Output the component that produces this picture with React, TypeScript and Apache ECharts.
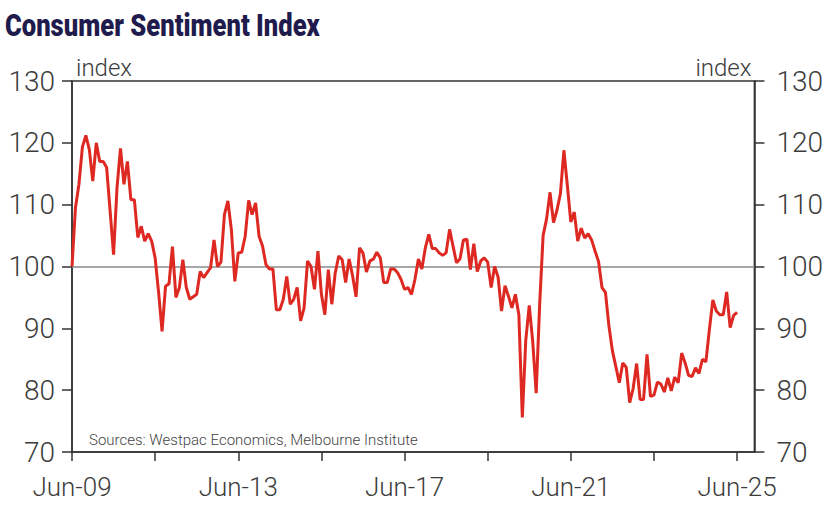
import React, { useEffect, useRef } from "react";
import * as echarts from "echarts";

// Westpac-Melbourne Institute Consumer Sentiment Index, monthly, Jun-09 to Jun-25
const y2009 = [100.0, 109.5, 113.3, 119.3, 121.2, 118.9, 113.8]; // Jun-Dec
const y2010 = [120.0, 117.0, 117.0, 116.0, 109.0, 101.9, 112.8, 119.1, 113.3, 117.0, 110.8, 110.8];
const y2011 = [104.7, 106.5, 104.1, 105.3, 104.1, 101.4, 95.8, 89.5, 96.8, 97.2, 103.2, 95.0];
const y2012 = [96.6, 101.1, 96.6, 94.7, 95.1, 95.5, 99.2, 98.2, 99.0, 99.8, 104.3, 100.0];
const y2013 = [100.7, 108.4, 110.6, 106.0, 97.6, 102.2, 102.3, 104.9, 110.7, 108.4, 110.3, 104.9];
const y2014 = [103.3, 100.3, 99.6, 99.6, 93.0, 93.0, 94.7, 98.4, 93.9, 94.7, 96.6, 91.2];
const y2015 = [93.3, 100.9, 100.0, 96.3, 102.5, 95.5, 92.2, 99.5, 93.9, 99.0, 101.7, 101.1];
const y2016 = [97.4, 101.2, 98.5, 95.1, 103.0, 102.2, 99.1, 100.9, 101.2, 102.3, 101.4, 97.4];
const y2017 = [97.4, 99.6, 99.6, 99.0, 97.9, 96.3, 96.6, 95.5, 97.9, 101.2, 99.6, 103.0];
const y2018 = [105.2, 102.9, 102.9, 102.2, 101.8, 102.2, 106.0, 103.3, 100.6, 101.2, 104.3, 104.4];
const y2019 = [99.5, 103.7, 99.2, 100.9, 101.4, 100.7, 96.6, 100.0, 98.3, 92.8, 96.9, 95.2];
const y2020 = [93.3, 95.5, 92.2, 75.6, 88.1, 93.7, 87.9, 79.5, 93.8, 105.0, 107.7, 112.0];
const y2021 = [107.1, 109.1, 111.8, 118.8, 113.1, 107.2, 108.8, 104.1, 106.2, 104.6, 105.3, 104.3];
const y2022 = [102.5, 100.8, 96.6, 95.8, 90.4, 86.4, 83.8, 81.2, 84.4, 83.7, 78.0, 80.3];
const y2023 = [84.3, 78.5, 78.5, 85.8, 79.0, 79.2, 81.3, 81.0, 79.7, 82.0, 79.9, 82.1];
const y2024 = [81.2, 86.0, 84.4, 82.4, 82.2, 83.6, 82.7, 85.0, 84.6, 89.8, 94.6, 92.8];
const y2025 = [92.2, 92.2, 95.9, 90.1, 92.1, 92.6]; // Jan-Jun

const tickLabels = ["Jun-09", "Jun-13", "Jun-17", "Jun-21", "Jun-25"];
const yTicks = [70, 80, 90, 100, 110, 120, 130];

const sentiment = [
  ...y2009, ...y2010, ...y2011, ...y2012, ...y2013, ...y2014, ...y2015, ...y2016,
  ...y2017, ...y2018, ...y2019, ...y2020, ...y2021, ...y2022, ...y2023, ...y2024, ...y2025,
];

// Month categories from Jun-09 through Nov-25 (axis runs a little past the last reading)
const MONTHS = ["Jan", "Feb", "Mar", "Apr", "May", "Jun", "Jul", "Aug", "Sep", "Oct", "Nov", "Dec"];
const months: string[] = [];
for (let i = 0; i < 198; i++) {
  const mi = 5 + i;
  const yr = 2009 + Math.floor(mi / 12);
  months.push(`${MONTHS[mi % 12]}-${String(yr % 100).padStart(2, "0")}`);
}

const AXIS_FONT = "Roboto, 'Liberation Sans', sans-serif";
const TEXT_COLOR = "#3c3c3c";
const AXIS_COLOR = "#333333";

export default function App() {
  const ref = useRef<HTMLDivElement>(null);

  useEffect(() => {
    if (!ref.current) return;
    const chart = echarts.init(ref.current, undefined, { renderer: "svg" });

    const yAxisCommon = {
      type: "value" as const,
      min: yTicks[0],
      max: yTicks[yTicks.length - 1],
      interval: 10,
      splitLine: { show: false },
      axisLine: { show: true, lineStyle: { color: AXIS_COLOR, width: 1.5 } },
      axisTick: { show: true, inside: false, length: 10, lineStyle: { color: AXIS_COLOR, width: 1.5 } },
      axisLabel: {
        color: TEXT_COLOR,
        fontSize: 28,
        fontWeight: 300,
        fontFamily: AXIS_FONT,
      },
      nameLocation: "end" as const,
      nameGap: 1,
    };

    chart.setOption({
      animation: false,
      backgroundColor: "#ffffff",
      title: {
        text: "Sources: Westpac Economics, Melbourne Institute",
        left: 84,
        top: 427,
        textStyle: {
          color: "#444444",
          fontSize: 15,
          fontWeight: 300,
          fontFamily: AXIS_FONT,
        },
      },
      graphic: [
        {
          type: "text",
          left: 5,
          top: 9,
          scaleX: 0.8,
          style: {
            text: "Consumer Sentiment Index",
            fill: "#1f1b4d",
            fontSize: 32,
            fontWeight: 900,
            fontFamily: "Roboto, 'DejaVu Sans', sans-serif",
          },
        },
      ],
      grid: {
        left: 72,
        right: 71,
        top: 81,
        bottom: 55,
        show: true,
        borderColor: AXIS_COLOR,
        borderWidth: 1.5,
        containLabel: false,
      },
      xAxis: {
        type: "category",
        data: months,
        boundaryGap: false,
        axisLine: { show: true, lineStyle: { color: AXIS_COLOR, width: 1.5 } },
        axisTick: {
          show: true,
          length: 9,
          interval: (i: number) => i % 24 === 0,
          lineStyle: { color: AXIS_COLOR, width: 1.5 },
        },
        axisLabel: {
          interval: (_i: number, v: string) => tickLabels.includes(v),
          color: TEXT_COLOR,
          fontSize: 26,
          fontWeight: 300,
          fontFamily: AXIS_FONT,
          margin: 22,
        },
        splitLine: { show: false },
      },
      yAxis: [
        {
          ...yAxisCommon,
          position: "left",
          name: "index",
          nameTextStyle: {
            align: "left",
            color: TEXT_COLOR,
            fontSize: 24,
            fontWeight: 300,
            fontFamily: AXIS_FONT,
            padding: [0, 0, 0, 4],
          },
          axisLabel: { ...yAxisCommon.axisLabel, margin: 17 },
        },
        {
          ...yAxisCommon,
          position: "right",
          name: "index",
          nameTextStyle: {
            align: "right",
            color: TEXT_COLOR,
            fontSize: 24,
            fontWeight: 300,
            fontFamily: AXIS_FONT,
            padding: [0, 3, 0, 0],
          },
          axisLabel: { ...yAxisCommon.axisLabel, margin: 22 },
        },
      ],
      series: [
        {
          type: "line",
          name: "Consumer Sentiment Index",
          data: sentiment,
          yAxisIndex: 0,
          showSymbol: false,
          lineStyle: { color: "#dd2922", width: 3 },
          itemStyle: { color: "#dd2922" },
          z: 3,
          markLine: {
            silent: true,
            symbol: "none",
            label: { show: false },
            lineStyle: { color: "#8a8a8a", width: 1.5, type: "solid" },
            data: [{ yAxis: 100 }],
            z: 1,
          },
        },
      ],
    });

    return () => chart.dispose();
  }, []);

  return (
    <div
      ref={ref}
      style={{ position: "fixed", left: 0, top: 0, width: 826, height: 507 }}
    />
  );
}
